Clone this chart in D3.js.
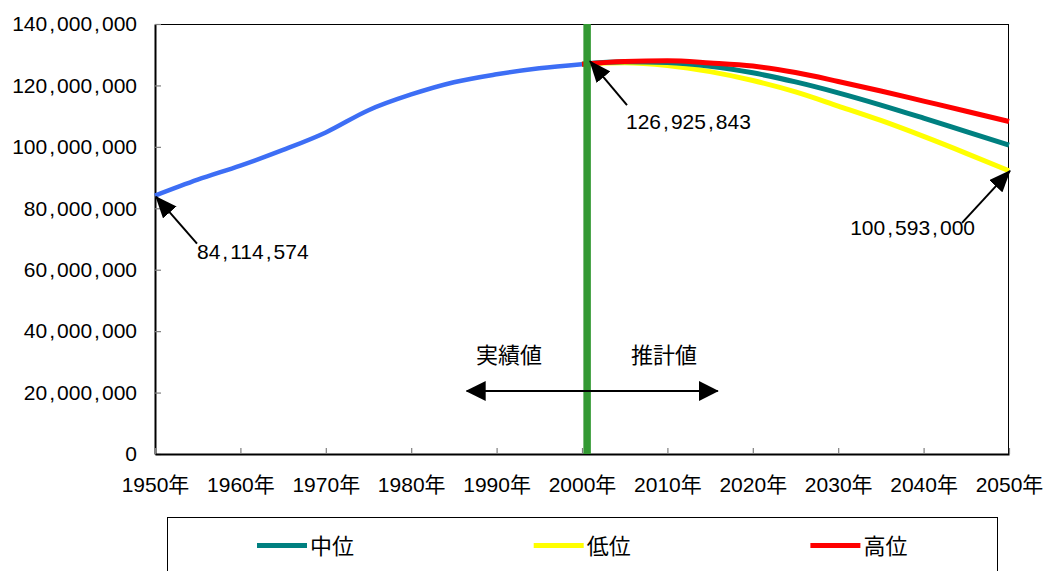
<!DOCTYPE html>
<html>
<head>
<meta charset="utf-8">
<script src="https://cdn.jsdelivr.net/npm/d3@7"></script>
<style>
  html, body { margin: 0; padding: 0; background: #ffffff; }
  svg { display: block; }
  .num { font-family: "Liberation Sans", Arial, "Noto Sans CJK JP", sans-serif; font-size: 21px; fill: #000; }
  .jp { font-family: "Noto Sans CJK JP", "Noto Sans CJK SC", sans-serif; font-size: 22px; fill: #000; }
</style>
</head>
<body>
<svg id="chart" width="1044" height="571"></svg>
<script>
// Total population of Japan: census results to 2000, projections to 2050
const actualYears = [1950, 1955, 1960, 1965, 1970, 1975, 1980, 1985, 1990, 1995, 2000];
const actualPop = [84114574, 89300000, 93900000, 99000000, 104700000, 111939643,
                   117060396, 121048923, 123611167, 125570246, 126925843];

const projYears = [2000, 2005, 2010, 2015, 2020, 2025, 2030, 2035, 2040, 2045, 2050];
const projMedium = [126925843, 127708000, 127473000, 126266000, 124107000, 121136000,
                    117580000, 113602000, 109338000, 104960000, 100593000];
const projLow = [126925843, 127400000, 126500000, 124500000, 121600000, 117900000,
                 113300000, 108600000, 103400000, 97900000, 92200000];
const projHigh = [126925843, 127800000, 128000000, 127300000, 126300000, 124200000,
                  121300000, 118200000, 114900000, 111600000, 108250000];

const seriesNames = ["中位", "低位", "高位"];
const seriesColors = ["#008080", "#ffff00", "#ff0000"];
const actualColor = "#3d6ef5";

const xTickYears = [1950, 1960, 1970, 1980, 1990, 2000, 2010, 2020, 2030, 2040, 2050];
const xTickLabels = xTickYears.map(d => d + "年");
const yTickValues = [0, 20000000, 40000000, 60000000, 80000000, 100000000, 120000000, 140000000];

const dividerYear = 2000.6;          // boundary between results and projections
const periodLabels = ["実績値", "推計値"];
const periodLabelYears = [1991.45, 2009.6];
const periodArrowYears = [1986.5, 2015.9];

// ---- layout ----
const svg = d3.select("#chart");
const plot = { left: 155, top: 24, right: 1009, bottom: 454 };

const x = d3.scaleLinear().domain([1950, 2050]).range([plot.left, plot.right]);
const y = d3.scaleLinear().domain([0, 140000000]).range([plot.bottom, plot.top]);

const fmt = d3.format(",");

// numbers with roomy thousands separators
function wideNumber(text, str) {
  text.text(null);
  str.split(",").forEach((part, i) => {
    if (i > 0) text.append("tspan").attr("dx", 2).text(",");
    text.append("tspan").attr("dx", i > 0 ? 2 : 0).text(part);
  });
}

// ---- markers ----
const defs = svg.append("defs");
defs.append("marker")
  .attr("id", "head").attr("markerUnits", "userSpaceOnUse")
  .attr("viewBox", "0 0 22 18").attr("refX", 21).attr("refY", 9)
  .attr("markerWidth", 22).attr("markerHeight", 18).attr("orient", "auto")
  .append("path").attr("d", "M0,0 L22,9 L0,18 Z").attr("fill", "#000");
defs.append("marker")
  .attr("id", "head2").attr("markerUnits", "userSpaceOnUse")
  .attr("viewBox", "0 0 20 20").attr("refX", 19).attr("refY", 10)
  .attr("markerWidth", 20).attr("markerHeight", 20).attr("orient", "auto-start-reverse")
  .append("path").attr("d", "M0,0 L20,10 L0,20 Z").attr("fill", "#000");

// ---- plot frame ----
svg.append("rect")
  .attr("x", plot.left + 0.5).attr("y", plot.top + 0.5)
  .attr("width", plot.right - plot.left - 1).attr("height", plot.bottom - plot.top)
  .attr("fill", "none").attr("stroke", "#000").attr("stroke-width", 1);

// ---- axes ----
const yAxis = svg.append("g")
  .attr("transform", `translate(${plot.left},0)`)
  .call(d3.axisLeft(y).tickValues(yTickValues).tickSizeInner(-6).tickSizeOuter(0).tickPadding(18));
yAxis.select(".domain").attr("stroke", "#000").attr("stroke-width", 2);
yAxis.selectAll(".tick line").attr("stroke", "#7f7f7f").attr("stroke-width", 1.2);
yAxis.selectAll(".tick text")
  .attr("class", "num").attr("font-family", null).attr("font-size", null)
  .each(function (d) { wideNumber(d3.select(this), fmt(d)); });

const xAxis = svg.append("g")
  .attr("transform", `translate(0,${plot.bottom})`)
  .call(d3.axisBottom(x).tickValues(xTickYears).tickSizeInner(-6).tickSizeOuter(0).tickPadding(23)
    .tickFormat((d, i) => xTickLabels[i]));
xAxis.select(".domain").attr("stroke", "#000").attr("stroke-width", 2);
xAxis.selectAll(".tick line").attr("stroke", "#7f7f7f").attr("stroke-width", 1.2);
xAxis.selectAll(".tick text").attr("class", "num").attr("font-family", null).attr("font-size", null);

// ---- lines ----
const line = d3.line()
  .x(d => x(d[0])).y(d => y(d[1]))
  .curve(d3.curveMonotoneX);

svg.append("path")
  .datum(actualYears.map((yr, i) => [yr, actualPop[i]]))
  .attr("d", line).attr("fill", "none")
  .attr("stroke", actualColor).attr("stroke-width", 4.5).attr("stroke-linejoin", "round");

const projValues = [projMedium, projLow, projHigh];
[1, 0, 2].forEach(k => { // low underneath, high on top
  svg.append("path")
    .datum(projYears.map((yr, i) => [yr, projValues[k][i]]))
    .attr("d", line).attr("fill", "none")
    .attr("stroke", seriesColors[k]).attr("stroke-width", 5).attr("stroke-linejoin", "round");
});

// ---- divider between results and projections ----
svg.append("line")
  .attr("x1", x(dividerYear)).attr("x2", x(dividerYear))
  .attr("y1", plot.top).attr("y2", plot.bottom)
  .attr("stroke", "#339933").attr("stroke-width", 7.5);

// ---- period labels and double arrow ----
periodLabels.forEach((lab, i) => {
  svg.append("text").attr("class", "jp")
    .attr("x", x(periodLabelYears[i])).attr("y", 355).attr("dy", "0.36em")
    .attr("text-anchor", "middle")
    .text(lab);
});
svg.append("line")
  .attr("x1", x(periodArrowYears[0])).attr("x2", x(periodArrowYears[1]))
  .attr("y1", 391).attr("y2", 391)
  .attr("stroke", "#000").attr("stroke-width", 2.2)
  .attr("marker-start", "url(#head2)").attr("marker-end", "url(#head2)");

// ---- value callouts ----
function callout(px, py, tail, label, lx, ly, anchor) {
  svg.append("line")
    .attr("x1", px + tail[0]).attr("y1", py + tail[1])
    .attr("x2", px).attr("y2", py)
    .attr("stroke", "#000").attr("stroke-width", 2)
    .attr("marker-end", "url(#head)");
  const t = svg.append("text").attr("class", "num")
    .attr("x", lx).attr("y", ly).attr("dy", "0.36em").attr("text-anchor", anchor);
  wideNumber(t, fmt(label));
}

const first = actualPop[0];
const last = actualPop[actualPop.length - 1];
const mediumEnd = projMedium[projMedium.length - 1];
const lowEnd = projLow[projLow.length - 1];

callout(x(1950) + 1, y(first) + 1, [41, 47], first, x(1950) + 42, y(first) + 56, "start");
callout(x(2000) + 8, y(last) - 3, [37, 44], last, x(2000) + 44, y(last) + 57, "start");
callout(x(2050) + 1, y(lowEnd), [-48, 52], mediumEnd, x(2050) - 34, y(lowEnd) + 57, "end");

// ---- legend ----
const legend = svg.append("g");
legend.append("rect")
  .attr("x", 167.5).attr("y", 517.5).attr("width", 830).attr("height", 80)
  .attr("fill", "#fff").attr("stroke", "#000").attr("stroke-width", 1);
seriesNames.forEach((name, i) => {
  const gx = 167 + i * 276.7;
  legend.append("line")
    .attr("x1", gx + 90).attr("x2", gx + 140).attr("y1", 545.5).attr("y2", 545.5)
    .attr("stroke", seriesColors[i]).attr("stroke-width", 5);
  legend.append("text").attr("class", "jp")
    .attr("x", gx + 143).attr("y", 546.5).attr("dy", "0.36em")
    .text(name);
});
</script>
</body>
</html>
